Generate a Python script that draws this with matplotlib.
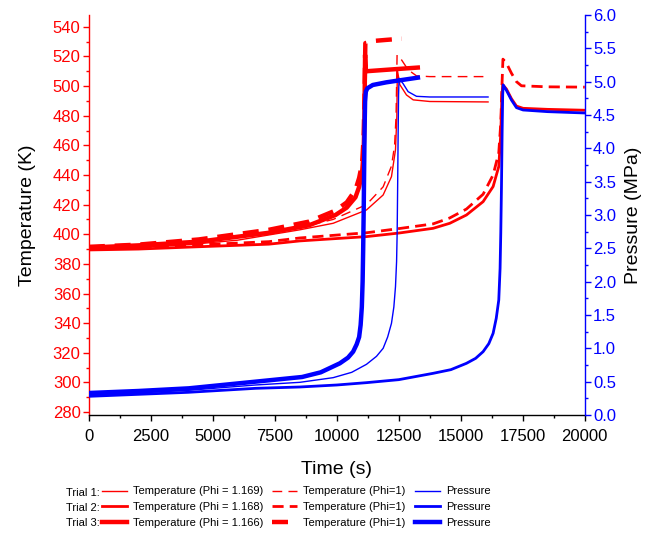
import matplotlib.pyplot as plt
from matplotlib.ticker import MultipleLocator

plt.rcParams['font.family'] = ['Liberation Sans', 'DejaVu Sans']

RED = '#ff0000'
BLUE = '#0000ff'

# ---- Trial 1 (Phi = 1.169) ----
t1_time_T = [0, 2000, 4000, 6000, 7250, 8508, 9852, 11196, 11868, 12204, 12366,
             12420, 12440, 12540, 12810, 13080, 13750, 16100]
t1_temp = [390, 391, 393, 396, 399.5, 403, 407.4, 416.4, 426.5, 438.9, 457,
           479.4, 511, 501, 494, 490.7, 489.6, 489.3]

t1_time_D = [0, 2000, 4000, 6000, 7250, 8508, 9852, 11196, 11868, 12204, 12330,
             12390, 12430, 12610, 12875, 13214, 13750, 16100]
t1_temp_phi1 = [390.5, 392, 394.5, 398, 401, 404.5, 410, 420, 432, 446, 460,
                480, 521, 517.7, 511, 506.9, 506.4, 506.4]

t1_time_P = [0, 2000, 4000, 6720, 8508, 9852, 10600, 11196, 11600, 11868, 12050,
             12204, 12300, 12366, 12410, 12433, 12455, 12473, 12490, 12510,
             12673, 12875, 13214, 13750, 16100]
t1_press = [0.30, 0.33, 0.37, 0.45, 0.49, 0.56, 0.64, 0.76, 0.88, 1.0, 1.17,
            1.375, 1.62, 1.925, 2.3, 2.725, 3.5, 4.23, 4.8, 5.05,
            4.97, 4.85, 4.78, 4.77, 4.77]

# ---- Trial 2 (Phi = 1.168) ----
t2_time_T = [0, 2000, 4000, 7258, 8508, 11196, 12500, 13884, 14556, 15228, 15900,
             16304, 16532, 16613, 16653, 16690, 16841, 17043, 17245, 17513,
             18500, 20000]
t2_temp = [389.4, 390, 391.3, 393.3, 395.5, 398.4, 400.8, 404, 407.4, 413, 422,
           432.2, 445.7, 468, 490.7, 501, 498, 491.5, 486.5, 485,
           484.3, 483.7]

t2_time_D = [0, 2000, 4000, 7258, 8508, 11196, 12500, 13884, 14556, 15228, 15900,
             16304, 16532, 16613, 16660, 16700, 16841, 17043, 17245, 17446,
             18500, 20000]
t2_temp_phi1 = [390, 391, 392.5, 395, 397.5, 401, 403.8, 407, 411, 417, 427,
                440, 455, 475, 500, 518.2, 515.5, 508.7, 503, 500.2,
                499.5, 499.3]

t2_time_P = [0, 2000, 4000, 6720, 8508, 10000, 11196, 12500, 13884, 14600,
             15228, 15600, 15900, 16130, 16304, 16430, 16532, 16585, 16613,
             16640, 16667, 16690, 16710, 16841, 17043, 17245, 17513, 18500, 20000]
t2_press = [0.28, 0.31, 0.34, 0.40, 0.42, 0.45, 0.485, 0.53, 0.625, 0.68,
            0.775, 0.85, 0.95, 1.07, 1.225, 1.45, 1.725, 2.2, 2.73,
            3.4, 4.23, 4.8, 4.95, 4.87, 4.725, 4.61, 4.575, 4.55, 4.53]

# ---- Trial 3 (Phi = 1.166) ----
t3_time_T = [0, 2000, 4435, 7258, 8870, 9946, 10400, 10752, 10900, 11021,
             11080, 11110, 11140, 11170, 12000, 13266]
t3_temp = [391, 392.5, 395, 401, 406, 413, 418, 425, 432, 442,
           455, 475, 521, 510, 511, 512.5]

t3_time_D = [0, 2000, 4435, 7258, 8870, 9946, 10400, 10752, 10900, 11021,
             11080, 11120, 11150, 11500, 12000, 12620]
t3_temp_phi1 = [391.5, 393, 396.5, 403, 408.5, 416, 421.5, 430, 438, 448,
                465, 495, 529, 530.5, 531.2, 532]

t3_time_P = [0, 2000, 4030, 6720, 8600, 9350, 10121, 10450, 10658, 10800,
             10900, 10960, 11008, 11040, 11062, 11085, 11102, 11120, 11140,
             11170, 11230, 11450, 12000, 12540, 13270]
t3_press = [0.33, 0.36, 0.40, 0.50, 0.57, 0.64, 0.775, 0.86, 0.95, 1.06,
            1.17, 1.35, 1.62, 2.0, 2.475, 3.1, 3.72, 4.3, 4.7,
            4.85, 4.9, 4.95, 4.99, 5.02, 5.06]

trial_names = ['Trial 1:', 'Trial 2:', 'Trial 3:']
phi_labels = ['Temperature (Phi = 1.169)', 'Temperature (Phi = 1.168)',
              'Temperature (Phi = 1.166)']
widths = [1.0, 2.0, 3.2]
dash_pat = [(7, 4.5), (4.0, 2.2), (3.6, 2.2)]

fig = plt.figure(figsize=(6.49, 5.33), dpi=100)
ax = fig.add_axes([0.137, 0.2214, 0.764, 0.7505])
ax2 = ax.twinx()

temps = [(t1_time_T, t1_temp), (t2_time_T, t2_temp), (t3_time_T, t3_temp)]
temps_phi1 = [(t1_time_D, t1_temp_phi1), (t2_time_D, t2_temp_phi1),
              (t3_time_D, t3_temp_phi1)]
presses = [(t1_time_P, t1_press), (t2_time_P, t2_press), (t3_time_P, t3_press)]

h_temp, h_phi1, h_press = [], [], []
for i in range(3):
    l1, = ax.plot(*temps[i], color=RED, lw=widths[i], label=phi_labels[i])
    l2, = ax.plot(*temps_phi1[i], color=RED, lw=widths[i], ls=(0, dash_pat[i]),
                  label='Temperature (Phi=1)')
    l3, = ax2.plot(*presses[i], color=BLUE, lw=widths[i], label='Pressure')
    h_temp.append(l1)
    h_phi1.append(l2)
    h_press.append(l3)

ax.set_xlim(0, 20000)
ax.set_ylim(278, 548)
ax2.set_ylim(0, 6)

ax.xaxis.set_major_locator(MultipleLocator(2500))
ax.xaxis.set_minor_locator(MultipleLocator(1250))
ax.yaxis.set_major_locator(MultipleLocator(20))
ax.yaxis.set_minor_locator(MultipleLocator(10))
ax2.yaxis.set_major_locator(MultipleLocator(0.5))
ax2.yaxis.set_minor_locator(MultipleLocator(0.25))
ax2.yaxis.set_major_formatter(lambda v, pos: f'{v:.1f}')

for a in (ax, ax2):
    a.spines['top'].set_visible(False)
ax.spines['right'].set_visible(False)
ax2.spines['left'].set_visible(False)
ax2.spines['bottom'].set_visible(False)
ax.spines['left'].set_color(RED)
ax2.spines['right'].set_color(BLUE)
ax.spines['left'].set_linewidth(1.0)
ax2.spines['right'].set_linewidth(1.0)
ax.spines['bottom'].set_linewidth(1.0)

ax.tick_params(axis='x', which='major', length=4, width=1, labelsize=12, pad=6)
ax.tick_params(axis='x', which='minor', length=2.5, width=1)
ax.tick_params(axis='y', which='both', colors=RED, width=1)
ax.tick_params(axis='y', which='major', length=4, labelsize=12, pad=2)
ax.tick_params(axis='y', which='minor', length=2.5)
ax2.tick_params(axis='y', which='both', colors=BLUE, width=1)
ax2.tick_params(axis='y', which='major', length=4, labelsize=12, pad=2)
ax2.tick_params(axis='y', which='minor', length=2.5)

ax.set_xlabel('Time (s)', fontsize=14, labelpad=12)
ax.set_ylabel('Temperature (K)', fontsize=14, labelpad=12)
ax2.set_ylabel('Pressure (MPa)', fontsize=14, labelpad=6)

handles = h_temp + h_phi1 + h_press
leg = fig.legend(handles=handles, labels=[h.get_label() for h in handles],
                 ncol=3, loc='upper left', bbox_to_anchor=(102 / 649, 1 - 486.5 / 533),
                 frameon=False, fontsize=8, borderpad=0, borderaxespad=0,
                 handlelength=2.25, handletextpad=0.55, columnspacing=0.8,
                 labelspacing=0.5)

for i, name in enumerate(trial_names):
    fig.text(100 / 649, 1 - (492.5 + 15.5 * i) / 533, name,
             fontsize=8, ha='right', va='center')

fig.savefig('out.png', dpi=100)
